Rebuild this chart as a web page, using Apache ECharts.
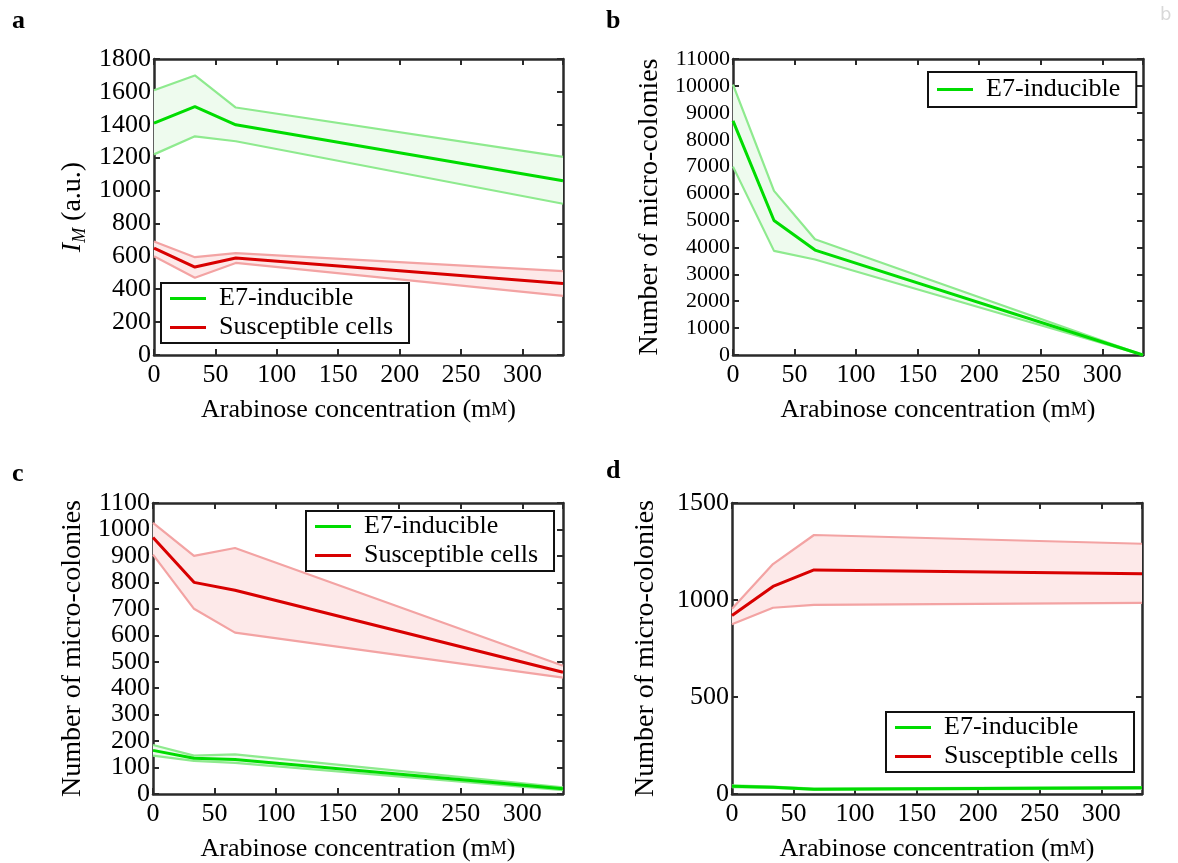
<!DOCTYPE html>
<html>
<head>
<meta charset="utf-8">
<script src="https://cdn.jsdelivr.net/npm/echarts@6/dist/echarts.min.js"></script>
<style>html,body{margin:0;padding:0;background:#fff}#c{width:1178px;height:863px}</style>
</head>
<body>
<div id="c"></div>
<script>
// ---- data ----
const xConc = [0, 33.3, 66.6, 333];
const xTicks = [0, 50, 100, 150, 200, 250, 300];

const aE7Mean = [1410, 1510, 1400, 1060];
const aE7Hi   = [1610, 1700, 1505, 1205];
const aE7Lo   = [1220, 1330, 1300, 920];
const aSusMean = [650, 535, 590, 435];
const aSusHi   = [690, 595, 620, 510];
const aSusLo   = [600, 470, 560, 360];

const bE7Mean = [8700, 5000, 3900, 0];
const bE7Hi   = [10050, 6100, 4300, 0];
const bE7Lo   = [7000, 3870, 3550, 0];

const cE7Mean = [165, 135, 130, 20];
const cE7Hi   = [185, 145, 150, 25];
const cE7Lo   = [145, 125, 118, 15];
const cSusMean = [970, 800, 770, 460];
const cSusHi   = [1025, 900, 930, 485];
const cSusLo   = [905, 700, 610, 440];

const dE7Mean = [40, 35, 25, 32];
const dE7Hi   = [45, 38, 28, 36];
const dE7Lo   = [35, 32, 22, 28];
const dSusMean = [920, 1070, 1155, 1135];
const dSusHi   = [955, 1185, 1335, 1290];
const dSusLo   = [875, 960, 975, 985];

const E7 = 'E7-inducible', SUS = 'Susceptible cells';
// ---- styles ----
const FONT = 'Liberation Serif';
const GREEN = {line:'#00dc00', edge:'#8eea8e', fill:'#eefbee'};
const RED = {line:'#d80000', edge:'#f3a3a3', fill:'#fde9e9'};
const AX = '#2a2a2a';

const grids = [
  {left:154, top:59, width:409, height:296},
  {left:733, top:59, width:410, height:296},
  {left:153, top:503, width:410, height:297},
  {left:732, top:503, width:410, height:296}
];
const yCfg = [
  {max:1800, interval:200},
  {max:11000, interval:1000},
  {max:1100, interval:100},
  {max:1500, interval:500}
];
const yNameGap = [65, 67, 64, 70];

const xAxes = [], yAxes = [];
grids.forEach((g, i) => {
  const tickBase = {show:true, inside:true, length:6, lineStyle:{color:AX, width:2}};
  const lineBase = {show:true, onZero:false, lineStyle:{color:AX, width:2.5}};
  xAxes.push({
    type:'value', gridIndex:i, min:0, max:333, interval:50, position:'bottom',
    axisLine:lineBase, axisTick:tickBase, splitLine:{show:false},
    axisLabel:{color:'#000', fontFamily:FONT, fontSize:26, margin:7, showMaxLabel:false,
      formatter: v => (xTicks.indexOf(v) >= 0 ? String(v) : '')},
    name:'Arabinose concentration (m{sc|M})', nameLocation:'middle', nameGap:42,
    nameTextStyle:{color:'#000', fontFamily:FONT, fontSize:26, rich:{sc:{fontFamily:FONT, fontSize:18, color:'#000'}}}
  });
  xAxes.push({
    type:'value', gridIndex:i, min:0, max:333, interval:50, position:'top',
    axisLine:lineBase, axisTick:tickBase,
    axisLabel:{show:false}, splitLine:{show:false}
  });
  yAxes.push({
    type:'value', gridIndex:i, min:0, max:yCfg[i].max, interval:yCfg[i].interval, position:'left',
    axisLine:lineBase, axisTick:tickBase, splitLine:{show:false},
    axisLabel:{color:'#000', fontFamily:FONT, fontSize: i === 1 ? 22 : 26, margin:3, formatter: v => String(v)},
    nameLocation:'middle', nameRotate:90, nameGap: yNameGap[i],
    name: i === 0 ? '{i|I}{s|M} (a.u.)' : 'Number of micro-colonies',
    nameTextStyle:{color:'#000', fontFamily:FONT, fontSize:28, lineHeight:32,
      rich:{i:{fontFamily:FONT, fontStyle:'italic', fontSize:28, color:'#000', lineHeight:32},
            s:{fontFamily:FONT, fontStyle:'italic', fontSize:18, color:'#000', verticalAlign:'bottom', lineHeight:32, padding:[12,0,0,0]}}}
  });
  yAxes.push({
    type:'value', gridIndex:i, min:0, max:yCfg[i].max, interval:yCfg[i].interval, position:'right',
    axisLine:lineBase, axisTick:tickBase,
    axisLabel:{show:false}, splitLine:{show:false}
  });
});

const pts = arr => arr.map((v, k) => [xConc[k], v]);
const series = [];
function addBand(p, name, mean, hi, lo, col) {
  const xi = p * 2, yi = p * 2;
  series.push({type:'custom', name:name + ' range', xAxisIndex:xi, yAxisIndex:yi, silent:true, z:1,
    data: xConc.map((x, k) => [x, lo[k], hi[k]]),
    encode:{x:0, y:[1, 2]},
    renderItem: (params, api) => {
      if (params.dataIndex !== 0) return;
      const top = [], bot = [];
      for (let k = 0; k < xConc.length; k++) {
        top.push(api.coord([xConc[k], hi[k]]));
        bot.push(api.coord([xConc[k], lo[k]]));
      }
      return {type:'polygon', shape:{points: top.concat(bot.reverse())}, style:{fill:col.fill, stroke:null}};
    }
  });
  series.push({type:'line', name:name + ' lower', xAxisIndex:xi, yAxisIndex:yi, data:pts(lo),
    symbol:'none', silent:true, z:3, lineStyle:{color:col.edge, width:2.2}, itemStyle:{color:col.edge}});
  series.push({type:'line', name:name + ' upper', xAxisIndex:xi, yAxisIndex:yi, data:pts(hi),
    symbol:'none', silent:true, z:3, lineStyle:{color:col.edge, width:2.2}, itemStyle:{color:col.edge}});
  series.push({type:'line', name:name, xAxisIndex:xi, yAxisIndex:yi, data:pts(mean),
    symbol:'none', z:4, lineStyle:{color:col.line, width:3}, itemStyle:{color:col.line}});
}
addBand(0, E7, aE7Mean, aE7Hi, aE7Lo, GREEN);
addBand(0, SUS, aSusMean, aSusHi, aSusLo, RED);
addBand(1, E7, bE7Mean, bE7Hi, bE7Lo, GREEN);
addBand(2, E7, cE7Mean, cE7Hi, cE7Lo, GREEN);
addBand(2, SUS, cSusMean, cSusHi, cSusLo, RED);
addBand(3, E7, dE7Mean, dE7Hi, dE7Lo, GREEN);
addBand(3, SUS, dSusMean, dSusHi, dSusLo, RED);

const legBase = {orient:'vertical', icon:'rect', itemWidth:36, itemHeight:3, itemGap:2,
  borderColor:'#111', borderWidth:2, backgroundColor:'#fff', padding:[2,16,2,9], z:10,
  textStyle:{fontFamily:FONT, fontSize:26, color:'#000', lineHeight:27, padding:[0,0,0,8]}, selectedMode:false};
const legends = [
  Object.assign({}, legBase, {left:161, top:283, data:[E7, SUS]}),
  Object.assign({}, legBase, {left:928, top:72, padding:[4,16,4,9], data:[E7]}),
  Object.assign({}, legBase, {left:306, top:511, data:[E7, SUS]}),
  Object.assign({}, legBase, {left:886, top:712, data:[E7, SUS]})
];

const panelLabels = [['a',12,8],['b',606,8],['c',12,461],['d',606,458]].map(([t,x,y]) => ({
  type:'text', left:x, top:y, z:20,
  style:{text:t, fontFamily:FONT, fontWeight:'bold', fontSize:26, fill:'#000'}
}));
panelLabels.push({type:'text', left:1160, top:6, style:{text:'b', fontFamily:'DejaVu Sans', fontSize:18, fill:'#d8d8d8'}});

const chart = echarts.init(document.getElementById('c'), null, {renderer:'canvas'});
chart.setOption({
  backgroundColor:'#fff', animation:false,
  grid: grids.map(g => Object.assign({containLabel:false}, g)),
  xAxis: xAxes, yAxis: yAxes, series, legend: legends, graphic: panelLabels
});
</script>
</body>
</html>
